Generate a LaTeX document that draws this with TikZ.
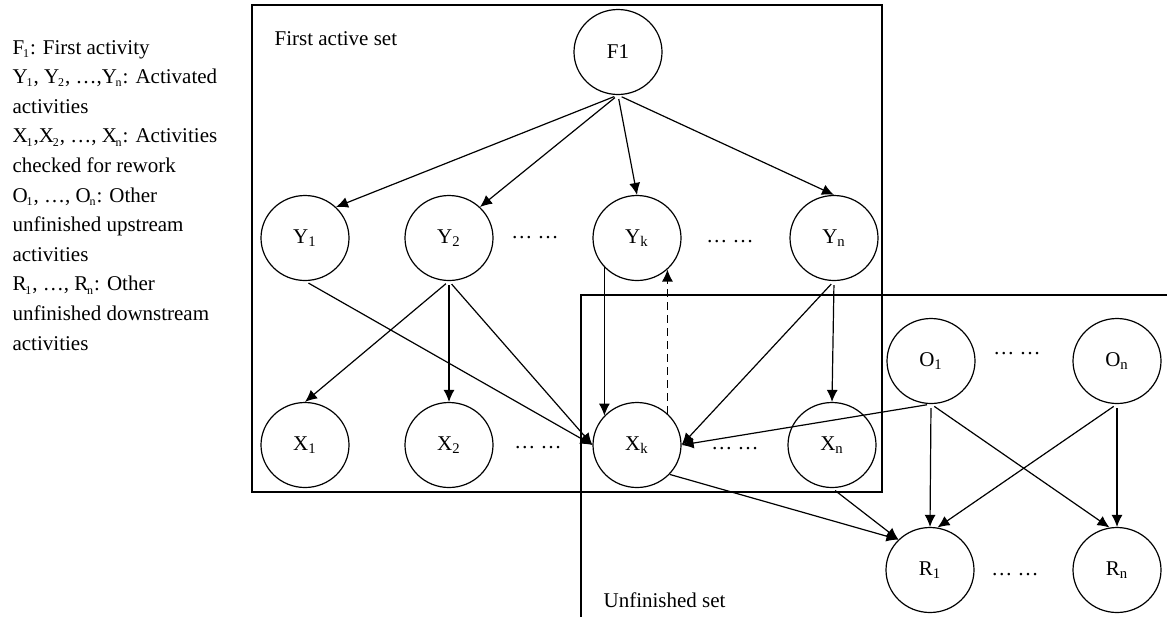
\documentclass[tikz,border=0pt]{standalone}
\usepackage{fontspec}
\setmainfont{Liberation Serif}
\usetikzlibrary{shapes.geometric}
\usetikzlibrary{arrows.meta}
\newcommand{\low}[1]{\kern-0.6pt\textsubscript{\fontsize{6}{6}\selectfont #1}}

\begin{document}
\begin{tikzpicture}[x=0.5pt,y=-0.5pt,line width=0.6pt,
    >={Latex[length=6pt,width=5.5pt]},
    act/.style={draw,ellipse,minimum width=44pt,minimum height=42.5pt,inner sep=0pt,
      font=\fontsize{10.5}{12}\selectfont},
    txt/.style={inner sep=0pt,anchor=base west,font=\fontsize{10.5}{12}\selectfont},
    dots/.style={inner sep=0pt,font=\fontsize{10.5}{12}\selectfont},
    fromgap/.style={shorten <=2pt}]
  \useasboundingbox (0,0) rectangle (1167,617);
  % legend
  \foreach \t [count=\i from 0] in {{F\low{1}: First activity},
      {Y\low{1}, Y\low{2}, …,Y\low{n}: Activated},
      {activities},
      {X\low{1},X\low{2}, …, X\low{n}: Activities},
      {checked for rework},
      {O\low{1}, …, O\low{n}: Other},
      {unfinished upstream},
      {activities},
      {R\low{1}, …, R\low{n}: Other},
      {unfinished downstream},
      {activities}}
    \node[txt] (leg\i) at (12,{54+29.6*\i}) {\t};

  % the two sets
  \draw (252,5) rectangle (882,492);
  \draw (1167,295) -- (581,295) -- (581,617);
  \node[txt] (firstset) at (274,45) {First active set};
  \node[txt] (unfset) at (603,607) {Unfinished set};

  % activities
  \node[act] (F1) at (618,52) {F1};
  \foreach \n/\x in {1/305,2/449,k/637,n/834}
    \node[act] (Y\n) at (\x,238) {Y\textsubscript{\n}};
  \foreach \n/\x in {1/305,2/449,k/637,n/832}
    \node[act] (X\n) at (\x,445) {X\textsubscript{\n}};
  \node[act] (O1) at (931,361) {O\textsubscript{1}};
  \node[act] (On) at (1117,361) {O\textsubscript{n}};
  \node[act] (R1) at (930,570) {R\textsubscript{1}};
  \node[act] (Rn) at (1117,570) {R\textsubscript{n}};

  \node[dots] (dY1) at (535,238) {… …};
  \node[dots] (dY2) at (730,242) {… …};
  \node[dots] (dX1) at (538,448) {… …};
  \node[dots] (dX2) at (735,449) {… …};
  \node[dots] (dO) at (1017,354) {… …};
  \node[dots] (dR) at (1015,575) {… …};

  % links
  \draw[->,fromgap] (F1.south) -- (Y1.45);
  \draw[->,fromgap] (F1.south) -- (Y2.45);
  \draw[->,fromgap] (F1.south) -- (Yk.north);
  \draw[->,fromgap] (F1.south) -- (Yn.north);
  \draw[->,fromgap] (Y1.south) -- (Xk.west);
  \draw[->,fromgap] (Y2.south) -- (X1.north);
  \draw[->,fromgap] (Y2.south) -- (X2.north);
  \draw[->,fromgap] (Y2.south) -- (Xk.west);
  \draw[->] (Yk.222) -- (Xk.138);
  \draw[->,dash pattern=on 4pt off 2.5pt] (Xk.46) -- (Yk.314);
  \draw[->,fromgap] (Yn.south) -- (Xk.east);
  \draw[->,fromgap] (Yn.south) -- (Xn.north);
  \draw[->,fromgap] (O1.south) -- (Xk.east);
  \draw[->] (Xk.318) -- (R1.136);
  \draw[->,fromgap] (Xn.south) -- (R1.136);
  \draw[->,fromgap] (O1.south) -- (R1.north);
  \draw[->,fromgap] (O1.south) -- (Rn.100);
  \draw[->,fromgap] (On.south) -- (R1.80);
  \draw[->,fromgap] (On.south) -- (Rn.north);
\end{tikzpicture}
\end{document}
